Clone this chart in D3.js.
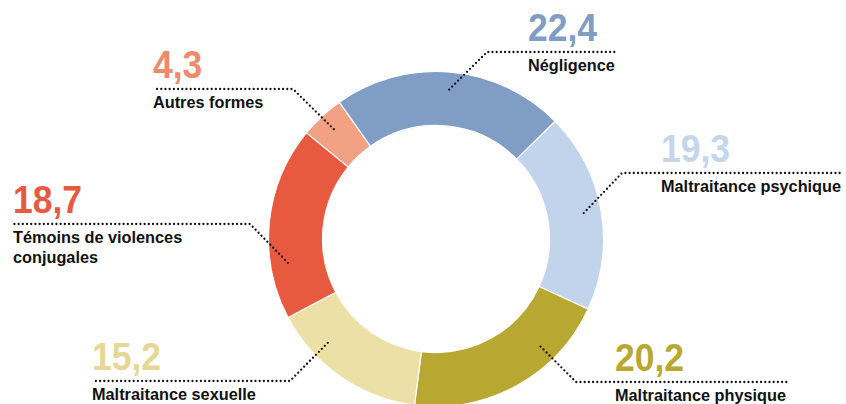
<!doctype html>
<html lang="fr">
  <head>
    <meta charset="UTF-8" />
    <title>Formes de maltraitance</title>
    <script src="https://d3js.org/d3.v7.min.js"></script>
    <style>
      body { margin: 0; background: #fff; }
      .num { font-family: "Liberation Sans", Arial, sans-serif; font-weight: bold; font-size: 39px; }
      .lab { font-family: "Liberation Sans", Arial, sans-serif; font-weight: bold; font-size: 16.3px; fill: #111; }
      .leader { fill: none; stroke: #111; stroke-width: 2.3; stroke-linecap: round; stroke-dasharray: 0 4.2; }
    </style>
  </head>
  <body>
    <div id="chart"></div>
    <script>
      // Data (clockwise, starting at the top-left slice)
      const categories = [
        'Autres formes',
        'Négligence',
        'Maltraitance psychique',
        'Maltraitance physique',
        'Maltraitance sexuelle',
        'Témoins de violences conjugales',
      ];
      const values = [4.3, 22.4, 19.3, 20.2, 15.2, 18.7];
      const sliceColors = ['#f2a184', '#7f9dc5', '#c2d4ec', '#b8a832', '#ede0a6', '#e85a40'];
      const numberColors = ['#f08a6c', '#7f9dc5', '#c5d6ec', '#b8a832', '#e6d794', '#e85a40'];

      // Label layout (positions only)
      const labelLines = [
        ['Autres formes'],
        ['Négligence'],
        ['Maltraitance psychique'],
        ['Maltraitance physique'],
        ['Maltraitance sexuelle'],
        ['Témoins de violences', 'conjugales'],
      ];
      // textX, lineY, lineX1, lineX2, elbowX, anchor fraction inside slice
      const layout = [
        { x: 153, lineY: 89, x1: 157, x2: 293, elbow: 293, f: 0.5 },
        { x: 528, lineY: 52, x1: 487, x2: 615, elbow: 487, f: 0.5 },
        { x: 661, lineY: 173, x1: 622, x2: 843, elbow: 622, f: 0.5 },
        { x: 615, lineY: 382, x1: 576, x2: 788, elbow: 576, f: 0.29 },
        { x: 92, lineY: 381, x1: 93, x2: 290, elbow: 290, f: 0.71 },
        { x: 13, lineY: 224, x1: 13, x2: 250, elbow: 250, f: 0.28 },
      ];

      const width = 846;
      const height = 404;
      const cx = 436;
      const cy = 239;
      const outerR = 167.5;
      const innerR = 113.5;
      const anchorR = 150;

      const svg = d3
        .select('#chart')
        .append('svg')
        .attr('width', width)
        .attr('height', height);

      const start = (-50.7 * Math.PI) / 180;
      const pie = d3
        .pie()
        .sort(null)
        .value((d) => d)
        .startAngle(start)
        .endAngle(start + 2 * Math.PI);
      const arcs = pie(values);
      const arc = d3.arc().innerRadius(innerR).outerRadius(outerR);

      const g = svg.append('g').attr('transform', `translate(${cx},${cy})`);
      g.selectAll('path')
        .data(arcs)
        .enter()
        .append('path')
        .attr('d', arc)
        .attr('fill', (d, i) => sliceColors[i])
        .attr('stroke', '#fff')
        .attr('stroke-width', 1.2);

      const fmt = (v) => d3.format('.1f')(v).replace('.', ',');

      arcs.forEach((a, i) => {
        const L = layout[i];
        const ang = a.startAngle + (a.endAngle - a.startAngle) * L.f;
        const px = cx + anchorR * Math.sin(ang);
        const py = cy - anchorR * Math.cos(ang);
        const otherX = L.elbow === L.x1 ? L.x2 : L.x1;
        svg
          .append('path')
          .attr('class', 'leader')
          .attr('d', d3.line()([[px, py], [L.elbow, L.lineY], [otherX, L.lineY]]));

        svg
          .append('text')
          .attr('class', 'num')
          .attr('transform', `translate(${L.x},${L.lineY - 11}) scale(0.91,1)`)
          .attr('fill', numberColors[i])
          .text(fmt(values[i]));

        labelLines[i].forEach((t, j) => {
          svg
            .append('text')
            .attr('class', 'lab')
            .attr('x', L.x)
            .attr('y', L.lineY + 19 + j * 20)
            .text(t);
        });
      });
    </script>
  </body>
</html>
